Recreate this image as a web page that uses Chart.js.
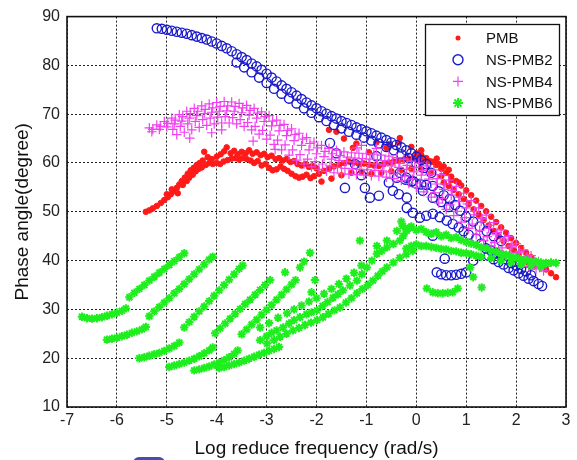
<!DOCTYPE html>
<html>
<head>
<meta charset="utf-8">
<script src="https://cdn.jsdelivr.net/npm/chart.js@4.4.0/dist/chart.umd.min.js"></script>
<style>
  html, body { margin: 0; padding: 0; background: #fff; }
  canvas { display: block; }
</style>
</head>
<body>
<canvas id="phaseChart" width="577" height="460"></canvas>
<script>
const seriesNames = ['PMB', 'NS-PMB2', 'NS-PMB4', 'NS-PMB6'];
const xTicks = [-7, -6, -5, -4, -3, -2, -1, 0, 1, 2, 3];
const yTicks = [10, 20, 30, 40, 50, 60, 70, 80, 90];

// [log reduced frequency, phase angle]
const pmb = [
  [-5.42,50.0],[-5.35,50.3],[-5.28,50.7],[-5.2,51.2],[-5.12,51.8],[-5.05,52.4],[-4.98,53.0],[-4.92,53.6],
  [-4.86,54.2],[-4.8,54.9],[-4.75,55.6],[-4.7,56.3],[-4.64,57.0],[-4.58,57.8],[-4.52,58.5],[-4.46,59.0],
  [-4.4,59.6],[-4.34,60.0],[-4.28,60.5],[-5.0,53.6],[-4.9,54.6],[-4.78,53.8],[-4.68,55.5],[-4.6,56.3],
  [-4.55,57.0],[-4.48,57.6],[-4.42,58.3],[-4.36,58.8],[-4.3,59.1],
  [-4.25,62.3],[-4.18,61.2],[-4.1,60.8],[-4.0,61.3],[-3.92,61.8],[-3.85,62.4],[-3.8,63.2],[-3.72,62.0],
  [-3.65,62.5],[-3.58,61.8],[-3.5,62.3],[-3.42,62.0],[-3.35,62.6],[-3.28,61.9],[-3.2,62.2],[-3.12,61.6],
  [-3.05,61.9],[-2.98,61.2],[-2.9,61.5],[-2.82,60.8],[-2.75,61.0],[-2.68,60.5],[-2.6,60.8],[-2.52,60.2],
  [-2.45,60.4],[-2.38,59.8],[-2.3,59.5],[-2.22,59.8],[-2.15,59.2],[-2.08,59.4],[-2.0,58.9],
  [-4.22,59.6],[-4.15,60.0],[-4.08,59.8],[-4.0,60.0],[-3.93,59.8],[-3.86,60.3],[-3.78,60.6],[-3.7,60.9],
  [-3.62,61.0],[-3.55,60.7],[-3.48,61.0],[-3.4,60.8],[-3.32,60.5],[-3.25,60.0],[-3.18,60.4],[-3.1,59.5],
  [-3.02,59.8],[-2.95,59.0],[-2.88,58.5],[-2.8,58.7],[-2.72,59.3],[-2.65,58.8],[-2.58,58.4],[-2.5,57.8],
  [-2.42,57.3],[-2.35,57.0],[-2.28,57.2],[-2.2,57.6],[-2.12,56.9],[-2.05,57.3],
  [-1.95,57.8],[-1.85,58.4],[-1.75,58.8],[-1.65,59.3],[-1.55,59.6],[-1.45,60.0],[-1.35,60.3],[-1.25,60.1],
  [-1.15,59.8],[-1.05,59.9],[-0.95,59.6],[-0.85,59.5],[-0.75,59.4],[-0.65,59.8],[-0.55,60.1],[-0.45,60.3],
  [-0.35,60.5],[-0.25,60.7],[-0.15,60.9],[-0.05,61.0],[0.05,60.8],[0.15,60.6],[0.25,60.4],[0.35,60.2],
  [0.45,59.8],[0.55,59.3],[0.65,58.6],
  [-1.9,56.2],[-1.7,56.8],[-1.5,57.5],[-1.3,58.0],[-1.1,58.2],[-0.9,57.8],[-0.7,58.0],[-0.5,58.3],
  [-0.3,58.6],[-0.1,58.8],[0.1,58.7],[0.3,58.0],[0.5,57.3],[0.7,56.5],[0.85,56.0],
  [-1.75,66.8],[-1.6,66.4],[-1.45,65.0],[-1.27,63.1],[-1.2,64.0],[-0.95,62.2],[-0.8,64.2],[-0.6,63.1],
  [-0.53,63.9],[-0.35,64.2],[-0.33,65.1],[-0.1,63.3],[0.07,61.8],[0.1,62.6],[0.41,60.9],
  [0.0,62.0],[0.1,61.6],[0.2,61.0],[0.3,60.3],[0.4,59.6],[0.5,58.8],[0.6,58.0],[0.7,57.2],[0.8,56.3],
  [0.9,55.4],[1.0,54.4],[1.1,53.4],[1.2,52.3],[1.3,51.2],[1.4,50.1],[1.5,49.0],[1.6,47.9],[1.7,46.8],
  [1.8,45.7],[1.9,44.6],[2.0,43.6],[2.1,42.6],[2.2,41.6],[2.3,40.7],[2.4,39.8],[2.5,39.0],[2.6,38.2],
  [2.7,37.4],[2.8,36.6],
  [0.55,56.0],[0.65,55.3],[0.75,54.5],[0.85,53.6],[0.95,52.6],[1.05,51.6],[1.15,50.5],[1.25,49.4],
  [1.35,48.3],[1.45,47.2],[1.55,46.1],[1.65,45.0],[1.75,44.0],[1.85,43.0],[1.95,42.1],[2.05,41.2],
  [2.15,40.3],[2.25,39.5],[2.35,38.8]
];

const nsPmb2 = [
  [-5.2,87.6],[-5.1,87.5],[-5.0,87.3],[-4.9,87.1],[-4.8,86.9],[-4.7,86.7],[-4.6,86.5],[-4.5,86.2],
  [-4.4,85.9],[-4.3,85.6],[-4.2,85.3],[-4.1,84.9],[-4.0,84.5],[-3.9,84.0],[-3.8,83.5],[-3.7,82.9],
  [-3.6,82.3],[-3.5,81.7],[-3.4,81.1],[-3.3,80.4],[-3.2,79.8],[-3.1,79.1],[-3.0,78.3],[-2.9,77.5],
  [-2.8,76.7],[-2.7,75.9],[-2.6,75.2],[-2.5,74.5],[-2.4,73.8],[-2.3,73.1],[-2.2,72.4],[-2.1,71.8],
  [-2.0,71.2],[-1.9,70.6],[-1.8,70.1],[-1.7,69.6],[-1.6,69.1],[-1.5,68.6],[-1.4,68.2],[-1.3,67.8],
  [-1.2,67.3],[-1.1,66.9],[-1.0,66.5],[-0.9,66.1],[-0.8,65.6],[-0.7,65.2],[-0.6,64.7],[-0.5,64.2],
  [-0.4,63.7],[-0.3,63.2],[-0.2,62.6],[-0.1,62.0],[0.0,61.3],[0.1,60.6],[0.2,59.8],
  [-3.6,80.6],[-3.45,79.6],[-3.3,78.6],[-3.15,77.5],[-3.0,76.4],[-2.85,75.2],[-2.7,74.2],[-2.55,73.2],
  [-2.4,72.2],[-2.25,71.2],[-2.1,70.3],[-1.95,69.4],[-1.8,68.6],[-1.65,67.8],[-1.5,67.1],[-1.35,66.4],
  [-1.2,65.8],[-1.05,65.2],[-0.9,64.6],[-0.75,64.0],[-0.6,63.3],[-0.45,62.6],[-0.3,61.8],[-0.15,61.0],
  [0.0,60.0],[0.15,59.0],[0.3,58.0],
  [-0.33,58.0],[-0.2,57.0],[-0.1,56.2],[0.0,55.8],[0.1,55.6],[0.2,55.5],[0.33,55.3],[0.45,54.2],
  [0.55,53.4],[0.67,52.6],[0.78,51.4],[0.88,50.2],[1.0,49.0],[1.14,48.0],[1.27,47.0],[1.41,46.0],
  [1.55,45.0],[1.7,44.0],
  [1.2,44.5],[1.3,43.5],[1.4,42.5],[1.5,42.0],[1.6,41.6],[1.7,41.0],[1.8,40.3],[1.9,39.5],[2.0,39.0],
  [2.1,38.3],[2.2,37.8],[2.3,37.0],
  [1.45,41.0],[1.55,40.3],[1.65,39.7],[1.75,39.2],[1.85,38.5],[1.95,38.0],[2.05,37.4],[2.15,36.9],
  [2.25,36.3],[2.35,35.8],[2.45,35.2],[2.52,34.8],
  [-0.47,54.3],[-0.35,53.6],[-0.19,52.9],[-0.19,50.8],[-0.07,49.8],[0.07,48.8],[0.2,49.2],[0.33,49.6],
  [0.47,48.9],[0.61,48.2],[0.73,47.5],[0.85,46.8],[0.95,46.0],[1.05,45.3],
  [-0.39,57.0],[-0.22,56.6],[-0.07,56.3],[0.13,54.3],[0.33,52.9],[0.5,52.0],[0.65,51.0],
  [0.33,45.1],[0.57,40.4],[0.41,37.6],[0.5,37.2],[0.6,37.0],[0.7,37.0],[0.8,37.1],[0.9,37.3],[1.0,37.6],
  [1.14,40.0],
  [-1.73,64.1],[-1.6,62.0],[-1.43,54.9],[-1.03,54.9],[-0.93,52.9],[-0.75,53.3],[-1.23,59.8],[-0.8,61.4],
  [-1.1,57.5],[-0.55,56.0]
];

const nsPmb4 = [
  [-5.35,67.2],[-5.2,67.8],[-5.05,68.5],[-4.9,69.2],[-4.75,69.9],[-4.6,70.6],[-4.45,71.2],[-4.3,71.7],
  [-4.15,72.1],[-4.0,72.4],[-3.85,72.6],[-3.7,72.5],[-3.55,72.2],[-3.4,71.8],[-3.25,71.2],[-3.1,70.5],
  [-2.95,69.7],[-2.8,68.8],[-2.65,67.9],[-2.5,67.0],[-2.35,66.1],[-2.2,65.2],[-2.05,64.3],[-1.9,63.6],
  [-1.75,63.0],[-1.6,62.6],[-1.45,62.3],[-1.3,62.1],[-1.15,62.0],[-1.0,61.9],[-0.85,61.8],[-0.7,61.6],
  [-0.55,61.4],[-0.4,61.1],[-0.25,60.8],[-0.1,60.4],[0.05,60.0],[0.2,59.4],[0.35,58.6],[0.5,57.6],
  [0.65,56.5],[0.8,55.2],[0.95,53.8],[1.1,52.3],[1.25,50.8],[1.4,49.3],[1.55,47.8],[1.7,46.3],
  [1.85,44.9],[2.0,43.5],[2.15,42.2],[2.3,41.0],[2.45,39.8],[2.6,38.8],
  [-5.28,66.9],[-5.13,67.5],[-4.98,68.1],[-4.83,68.8],[-4.68,69.5],[-4.53,70.1],[-4.38,70.6],[-4.23,71.0],
  [-4.08,71.3],[-3.93,71.6],[-3.78,71.7],[-3.63,71.6],[-3.48,71.3],[-3.33,70.8],[-3.18,70.2],[-3.03,69.5],
  [-2.88,68.6],[-2.73,67.7],[-2.58,66.7],[-2.43,65.8],[-2.28,64.9],[-2.13,64.0],[-1.98,63.1],[-1.83,62.4],
  [-1.68,61.9],[-1.53,61.5],[-1.38,61.2],[-1.23,61.0],[-1.08,60.9],[-0.93,60.8],[-0.78,60.7],[-0.63,60.5],
  [-0.48,60.2],[-0.33,59.9],[-0.18,59.5],[-0.03,59.1],[0.12,58.5],[0.27,57.7],[0.42,56.8],[0.57,55.7],
  [0.72,54.4],[0.87,53.0],[1.02,51.6],[1.17,50.1],[1.32,48.6],[1.47,47.2],[1.62,45.8],[1.77,44.4],
  [1.92,43.1],[2.07,41.9],[2.22,40.8],[2.37,39.8],[2.52,38.9],
  [-5.3,66.4],[-5.15,66.9],[-5.0,67.4],[-4.85,68.0],[-4.7,68.6],[-4.55,69.2],[-4.4,69.7],[-4.25,70.1],
  [-4.1,70.4],[-3.95,70.6],[-3.8,70.7],[-3.65,70.6],[-3.5,70.3],[-3.35,69.8],[-3.2,69.2],[-3.05,68.5],
  [-2.9,67.6],[-2.75,66.6],[-2.6,65.6],[-2.45,64.6],[-2.3,63.6],[-2.15,62.7],[-2.0,61.9],[-1.85,61.3],
  [-1.7,60.8],[-1.55,60.5],[-1.4,60.3],[-1.25,60.2],[-1.1,60.0],[-0.95,59.9],[-0.8,59.8],[-0.65,59.6],
  [-0.5,59.4],[-0.35,59.1],[-0.2,58.7],[-0.05,58.2],[0.1,57.5],[0.25,56.7],[0.4,55.7],[0.55,54.6],
  [0.7,53.4],[0.85,52.1],[1.0,50.8],[1.15,49.4],[1.3,48.0],[1.45,46.6],[1.6,45.3],[1.75,44.0],
  [1.9,42.8],[2.05,41.6],[2.2,40.5],[2.35,39.5],[2.5,38.6],
  [-4.88,66.9],[-4.73,67.5],[-4.58,68.0],[-4.43,68.5],[-4.28,68.9],[-4.13,69.2],[-3.98,69.4],[-3.83,69.5],
  [-3.68,69.3],[-3.53,68.9],[-3.38,68.3],[-3.23,67.5],[-3.08,66.7],[-2.93,65.7],[-2.78,64.7],[-2.63,63.7],
  [-2.48,62.7],[-2.33,61.7],[-2.18,60.8],[-2.03,60.3],[-1.88,59.8],[-1.73,59.4],[-1.58,59.1],[-1.43,58.9],
  [-1.28,58.8],[-1.13,58.7],[-0.98,58.6],[-0.83,58.5],[-0.68,58.4],[-0.53,58.2],[-0.38,57.8],[-0.23,57.3],
  [-0.08,56.7],[0.07,55.9],[0.22,55.0],[0.37,53.9],[0.52,52.7],[0.67,51.4],[0.82,50.1],[0.97,48.8],
  [1.12,47.5],[1.27,46.2],[1.42,44.9],[1.57,43.7],[1.72,42.6],[1.87,41.6],[2.02,40.7],[2.17,39.9],
  [2.32,39.2],[2.47,38.6],
  [-4.8,65.8],[-4.65,66.3],[-4.5,66.8],[-4.35,67.3],[-4.2,67.7],[-4.05,68.0],[-3.9,68.2],[-3.75,68.2],
  [-3.6,68.0],[-3.45,67.5],[-3.3,66.8],[-3.15,65.9],[-3.0,64.9],[-2.85,63.8],[-2.7,62.7],[-2.55,61.6],
  [-2.4,60.6],[-2.25,59.8],[-2.1,59.2],[-1.95,58.7],[-1.8,58.3],[-1.65,58.0],[-1.5,57.8],[-1.35,57.7],
  [-1.2,57.6],[-1.05,57.5],[-0.9,57.4],[-0.75,57.3],[-0.6,57.1],[-0.45,56.8],[-0.3,56.4],[-0.15,55.8],
  [0.0,55.0],[0.15,54.1],[0.3,53.0],[0.45,51.8],[0.6,50.5],[0.75,49.2],[0.9,47.9],[1.05,46.6],
  [1.2,45.3],[1.35,44.1],[1.5,43.0],[1.65,42.0],[1.8,41.0],[1.95,40.2],[2.1,39.4],[2.25,38.8],
  [2.4,38.3],[2.55,37.9],
  [-4.54,65.1],[-3.27,64.5],[-2.83,62.8],[-1.19,63.1],[-1.1,63.6],[-0.8,63.0],[-4.1,66.2],[-3.9,66.8]
];

const nsPmb6 = [
  [-6.7,28.5],[-6.6,28.2],[-6.5,28.1],[-6.4,28.2],[-6.3,28.4],[-6.2,28.7],[-6.1,29.0],[-6.0,29.3],
  [-5.9,29.7],[-5.82,30.2],
  [-5.75,32.5],[-5.65,33.4],[-5.55,34.2],[-5.45,35.0],[-5.35,35.9],[-5.25,36.7],[-5.15,37.5],[-5.05,38.3],
  [-4.95,39.1],[-4.85,39.9],[-4.75,40.7],[-4.65,41.5],
  [-6.2,23.8],[-6.1,24.0],[-6.0,24.2],[-5.9,24.5],[-5.8,24.8],[-5.7,25.2],[-5.6,25.5],[-5.5,25.9],[-5.42,26.4],
  [-5.35,28.6],[-5.25,29.6],[-5.15,30.5],[-5.05,31.4],[-4.95,32.3],[-4.85,33.3],[-4.75,34.2],[-4.65,35.2],
  [-4.55,36.2],[-4.45,37.2],[-4.35,38.2],[-4.25,39.2],[-4.15,40.2],[-4.08,40.8],
  [-5.55,20.0],[-5.45,20.2],[-5.35,20.5],[-5.25,20.8],[-5.15,21.1],[-5.05,21.5],[-4.95,22.0],[-4.85,22.5],
  [-4.75,23.2],
  [-4.65,26.3],[-4.55,27.4],[-4.45,28.5],[-4.35,29.6],[-4.25,30.6],[-4.15,31.7],[-4.05,32.8],[-3.95,33.9],
  [-3.85,35.0],[-3.75,36.1],[-3.65,37.2],[-3.55,38.3],[-3.48,39.0],
  [-4.95,18.2],[-4.85,18.5],[-4.75,18.8],[-4.65,19.1],[-4.55,19.5],[-4.45,19.9],[-4.35,20.4],[-4.25,21.0],
  [-4.15,21.6],[-4.08,22.2],
  [-4.03,25.1],[-3.93,26.1],[-3.83,27.1],[-3.73,28.1],[-3.63,29.1],[-3.53,30.1],[-3.43,31.1],[-3.33,32.0],
  [-3.23,33.0],[-3.13,34.0],[-3.03,35.0],[-2.93,36.0],
  [-4.45,17.5],[-4.35,17.7],[-4.25,18.0],[-4.15,18.3],[-4.05,18.7],[-3.95,19.1],[-3.85,19.6],[-3.75,20.2],
  [-3.65,20.9],[-3.58,21.6],
  [-3.5,24.9],[-3.4,25.9],[-3.3,26.9],[-3.2,27.9],[-3.1,28.9],[-3.0,29.9],[-2.9,30.9],[-2.8,32.0],
  [-2.7,33.0],[-2.6,34.1],[-2.5,35.1],[-2.42,36.0],
  [-2.63,37.6],[-2.33,38.6],[-2.25,39.8],[-2.13,41.6],[-2.03,36.0],[-2.1,33.5],[-1.13,44.1],
  [-3.95,18.0],[-3.85,18.2],[-3.75,18.5],[-3.65,18.8],[-3.55,19.1],[-3.45,19.5],[-3.35,19.9],[-3.25,20.3],
  [-3.15,20.7],[-3.05,21.1],[-2.95,21.5],[-2.85,21.9],[-2.75,22.3],
  [-3.13,23.7],[-3.0,24.5],[-2.9,25.2],[-2.8,25.7],[-2.67,26.3],[-2.55,27.1],[-2.45,27.8],[-2.33,28.4],
  [-2.2,29.0],[-2.1,29.4],[-1.99,29.8],[-1.88,30.7],[-1.78,31.5],[-1.67,32.4],[-1.57,33.1],[-1.47,33.9],
  [-1.33,34.9],[-1.19,35.9],[-1.09,37.2],[-0.99,38.6],[-0.89,40.0],[-0.79,41.4],[-0.69,42.0],[-0.59,42.7],
  [-0.46,43.4],[-0.33,44.1],[-0.26,45.1],[-0.19,46.1],
  [-2.99,23.0],[-2.85,23.7],[-2.73,24.4],[-2.6,25.0],[-2.47,25.7],[-2.35,26.2],[-2.23,26.8],[-2.11,27.3],
  [-1.99,27.8],[-1.87,28.4],[-1.76,29.1],[-1.64,29.8],[-1.53,30.4],[-1.41,31.4],[-1.3,32.3],[-1.19,33.3],
  [-1.08,34.2],[-0.97,35.0],[-0.87,35.9],[-0.77,36.9],[-0.68,37.8],[-0.59,38.6],[-0.46,39.6],[-0.33,40.6],
  [-0.2,41.3],[-0.07,42.0],
  [-3.13,26.3],[-2.95,27.2],[-2.77,28.3],[-2.59,29.2],[-2.45,30.0],[-2.3,30.8],[-2.15,31.6],[-2.0,32.3],
  [-1.85,33.2],[-1.7,34.2],[-1.55,35.2],[-1.4,36.3],[-1.25,37.5],[-1.1,39.0],
  [-0.79,43.0],[-0.59,44.1],[-0.39,46.1],[-0.27,47.1],[-0.13,46.7],[-0.3,48.0],
  [-0.2,46.5],[-0.1,47.0],[0.0,46.2],[0.1,46.5],[0.2,45.8],[0.3,45.5],[0.4,45.8],[0.5,45.0],[0.6,45.3],
  [0.7,44.6],[0.8,44.8],[0.9,44.2],[1.0,43.8],[1.1,43.5],[1.2,43.2],[1.3,42.7],[1.4,42.5],[1.5,42.0],
  [1.6,41.8],[1.7,41.4],[1.8,41.2],[1.9,40.8],[2.0,40.6],[2.1,40.3],[2.2,40.1],[2.3,39.9],[2.4,39.8],
  [2.5,39.6],[2.6,39.5],[2.7,39.6],[2.8,39.5],
  [-0.2,42.5],[-0.1,43.0],[0.0,43.3],[0.1,43.0],[0.2,43.0],[0.3,42.8],[0.4,42.6],[0.5,42.4],[0.6,42.3],
  [0.7,42.0],[0.8,41.9],[0.9,41.6],[1.0,41.5],[1.1,41.3],[1.2,41.0],[1.3,40.8],[1.5,40.5],[1.7,40.0],
  [1.9,39.6],[2.1,39.2],[2.3,39.0],[2.5,38.8],
  [0.21,34.3],[0.33,33.5],[0.43,33.3],[0.53,33.3],[0.63,33.4],[0.73,33.5],[0.83,34.3],
  [1.08,38.6],[1.14,36.6],[1.31,34.5]
];

const toPoints = (pairs) => pairs.map(p => ({ x: p[0], y: p[1] }));

const colors = ['#ff1a1a', '#1a1acc', '#f040f0', '#1eee1e'];
const markers = [
  { style: 'circle', radius: 2.8, fill: true, width: 1 },
  { style: 'circle', radius: 4.6, fill: false, width: 1.4 },
  { style: 'cross', radius: 4.8, fill: false, width: 1.2 },
  { style: 'star', radius: 4.2, fill: false, width: 2 }
];

function drawMarker(ctx, m, color, x, y, r) {
  ctx.save();
  ctx.strokeStyle = color;
  ctx.fillStyle = color;
  ctx.lineWidth = m.width;
  ctx.beginPath();
  if (m.style === 'circle') {
    ctx.arc(x, y, r, 0, Math.PI * 2);
    if (m.fill) ctx.fill(); else ctx.stroke();
  } else {
    ctx.moveTo(x - r, y); ctx.lineTo(x + r, y);
    ctx.moveTo(x, y - r); ctx.lineTo(x, y + r);
    if (m.style === 'star') {
      const d = r * 0.707;
      ctx.moveTo(x - d, y - d); ctx.lineTo(x + d, y + d);
      ctx.moveTo(x - d, y + d); ctx.lineTo(x + d, y - d);
    }
    ctx.stroke();
  }
  ctx.restore();
}

// box around the axes, Matlab-like legend, and the clipped blue shape under the figure
const figureFrame = {
  id: 'figureFrame',
  afterDraw(chart) {
    const ctx = chart.ctx;
    const a = chart.chartArea;
    ctx.save();
    ctx.strokeStyle = '#111';
    ctx.lineWidth = 1.6;
    ctx.strokeRect(a.left, a.top, a.right - a.left, a.bottom - a.top);

    const lx = 425, ly = 24, lw = 134, lh = 91;
    ctx.fillStyle = '#fff';
    ctx.fillRect(lx, ly, lw, lh);
    ctx.lineWidth = 1.3;
    ctx.strokeRect(lx + 0.5, ly + 0.5, lw, lh);
    ctx.font = '15px "Liberation Sans", Arial, sans-serif';
    ctx.textBaseline = 'middle';
    ctx.textAlign = 'left';
    seriesNames.forEach((name, i) => {
      const cy = ly + 14 + i * 21.7;
      const m = markers[i];
      drawMarker(ctx, m, colors[i], lx + 33, cy, m.style === 'circle' && m.fill ? 2.5 : 5);
      ctx.fillStyle = '#111';
      ctx.fillText(name, lx + 61, cy + 1);
    });

    ctx.fillStyle = '#4a4ab4';
    ctx.beginPath();
    ctx.roundRect(133, 457, 32, 14, 6);
    ctx.fill();
    ctx.restore();
  }
};

const datasets = [pmb, nsPmb2, nsPmb4, nsPmb6].map((pairs, i) => ({
  label: seriesNames[i],
  data: toPoints(pairs),
  pointStyle: markers[i].style,
  pointRadius: markers[i].radius,
  pointBorderWidth: markers[i].width,
  pointBorderColor: colors[i],
  pointBackgroundColor: markers[i].fill ? colors[i] : 'rgba(0,0,0,0)',
  showLine: false,
  order: 3 - i
}));

const tickFont = { family: '"Liberation Sans", Arial, sans-serif', size: 16 };
const titleFont = { family: '"Liberation Sans", Arial, sans-serif', size: 19 };

new Chart(document.getElementById('phaseChart').getContext('2d'), {
  type: 'scatter',
  data: { datasets },
  options: {
    responsive: false,
    animation: false,
    devicePixelRatio: 1,
    layout: { padding: { top: 15, right: 11, left: 0, bottom: 0 } },
    plugins: {
      legend: { display: false },
      tooltip: { enabled: false }
    },
    scales: {
      x: {
        type: 'linear',
        min: -7,
        max: 3,
        afterBuildTicks: (s) => { s.ticks = xTicks.map(v => ({ value: v })); },
        afterFit: (s) => { s.height = 53; },
        ticks: { font: tickFont, color: '#222', padding: 4, maxRotation: 0 },
        grid: { color: '#222', lineWidth: 1, drawTicks: false },
        border: { display: false, dash: [2, 2] },
        title: { display: true, text: 'Log reduce frequency (rad/s)', font: titleFont, color: '#111', padding: { top: 0, bottom: 0 } }
      },
      y: {
        type: 'linear',
        min: 10,
        max: 90,
        afterBuildTicks: (s) => { s.ticks = yTicks.map(v => ({ value: v })); },
        afterFit: (s) => { s.width = 67; },
        ticks: { font: tickFont, color: '#222', padding: 7 },
        grid: { color: '#222', lineWidth: 1, drawTicks: false },
        border: { display: false, dash: [2, 2] },
        title: { display: true, text: 'Phase angle(degree)', font: titleFont, color: '#111', padding: { top: 11, bottom: 0 } }
      }
    }
  },
  plugins: [figureFrame]
});
</script>
</body>
</html>
